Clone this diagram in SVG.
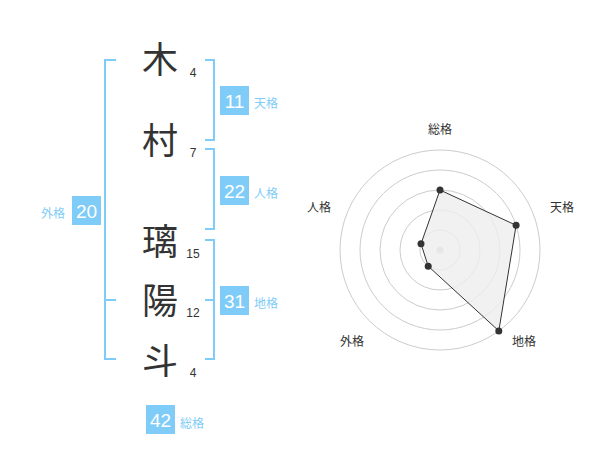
<svg xmlns="http://www.w3.org/2000/svg" width="600" height="470" viewBox="0 0 600 470">
<style>
.br{fill:none;stroke:#80ccf8;stroke-width:2}
.box{fill:#80ccf8}
.bn{font-family:"Liberation Sans",Arial,sans-serif;font-size:19px;fill:#fff;text-anchor:middle}
.lb{font-family:"Noto Sans CJK JP","Noto Sans CJK SC",sans-serif;font-size:12px;fill:#80ccf8}
.ch{font-family:"Noto Sans CJK JP","Noto Sans CJK SC",sans-serif;font-size:36px;fill:#333;text-anchor:middle}
.sn{font-family:"Liberation Sans",Arial,sans-serif;font-size:12px;fill:#333;text-anchor:middle}
.ring{fill:none;stroke:#ccc;stroke-width:1}
.rl{font-family:"Noto Sans CJK JP","Noto Sans CJK SC",sans-serif;font-size:12px;fill:#333;text-anchor:middle}
.pt{fill:#333}
</style>
<rect width="600" height="470" fill="#fff"/>
<g id="connectors">
<path class="br" d="M116,60 H105 V359 H116 M105,300 H116"/>
<path class="br" d="M205,60 H214 V140 H205"/>
<path class="br" d="M205,149 H214 V229 H205"/>
<path class="br" d="M205,240 H214 V359 H205 M205,300 H214"/>
</g>
<g id="chars">
<text class="ch" x="160" y="73">木</text>
<text class="ch" x="160" y="154">村</text>
<text class="ch" x="160" y="255">璃</text>
<text class="ch" x="160" y="314">陽</text>
<text class="ch" x="160" y="374">斗</text>
<text class="sn" x="193" y="77">4</text>
<text class="sn" x="193" y="157">7</text>
<text class="sn" x="193" y="258">15</text>
<text class="sn" x="193" y="317">12</text>
<text class="sn" x="193" y="377">4</text>
</g>
<g id="tenkaku">
<rect class="box" x="220" y="86" width="29" height="29"/>
<text class="bn" x="234.5" y="107.5">11</text>
<text class="lb" x="254" y="108">天格</text>
</g>
<g id="jinkaku">
<rect class="box" x="220" y="176" width="29" height="29"/>
<text class="bn" x="234.5" y="197.5">22</text>
<text class="lb" x="254" y="198">人格</text>
</g>
<g id="chikaku">
<rect class="box" x="220" y="286" width="29" height="29"/>
<text class="bn" x="234.5" y="307.5">31</text>
<text class="lb" x="254" y="308">地格</text>
</g>
<g id="gaikaku">
<rect class="box" x="72" y="196" width="29" height="29"/>
<text class="bn" x="86.5" y="217.5">20</text>
<text class="lb" x="41" y="218">外格</text>
</g>
<g id="soukaku">
<rect class="box" x="146" y="405" width="29" height="29"/>
<text class="bn" x="160.5" y="426.5">42</text>
<text class="lb" x="180" y="428">総格</text>
</g>
<g id="radar">
<circle class="ring" cx="440" cy="250" r="20"/>
<circle class="ring" cx="440" cy="250" r="40"/>
<circle class="ring" cx="440" cy="250" r="60"/>
<circle class="ring" cx="440" cy="250" r="80"/>
<circle class="ring" cx="440" cy="250" r="100"/>
<circle cx="440" cy="250" r="3.5" fill="#ccc"/>
<polygon points="440,190 516.1,225.3 498.8,330.9 428.2,266.2 421,243.8" fill="#eee" fill-opacity="0.8" stroke="#333" stroke-width="1"/>
<circle class="pt" cx="440" cy="190" r="3.5"/>
<circle class="pt" cx="516.1" cy="225.3" r="3.5"/>
<circle class="pt" cx="498.8" cy="330.9" r="3.5"/>
<circle class="pt" cx="428.2" cy="266.2" r="3.5"/>
<circle class="pt" cx="421" cy="243.8" r="3.5"/>
<text class="rl" x="440" y="134">総格</text>
<text class="rl" x="562" y="212">天格</text>
<text class="rl" x="524" y="346">地格</text>
<text class="rl" x="352" y="346">外格</text>
<text class="rl" x="319" y="212">人格</text>
</g>
</svg>
